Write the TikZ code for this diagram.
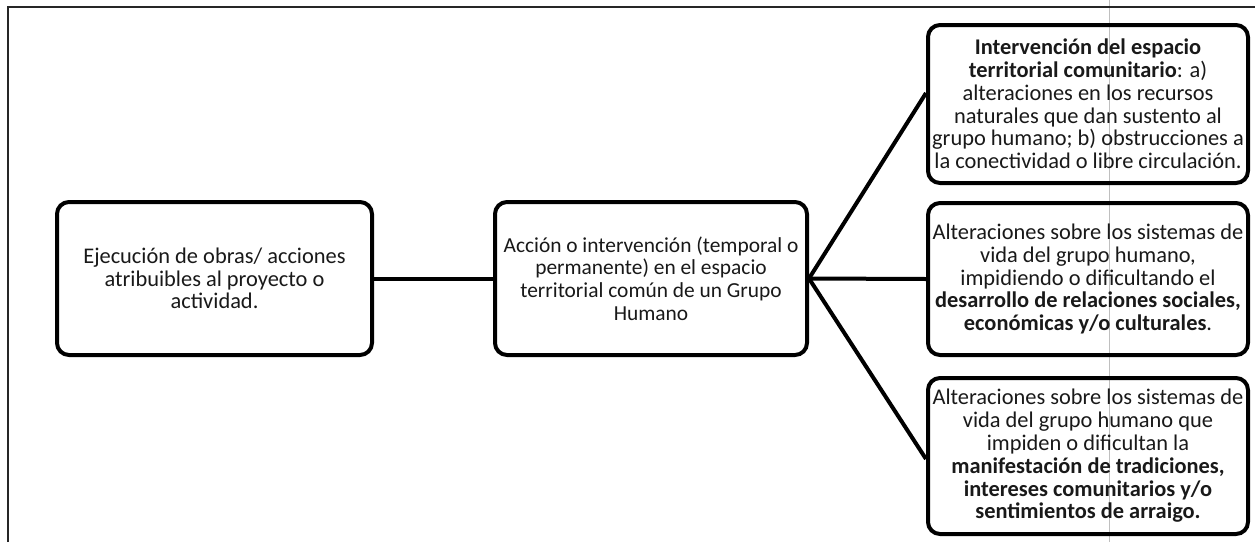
\documentclass[tikz,border=0pt]{standalone}
\usepackage{fontspec}
\setmainfont{Carlito}
\begin{document}
\begin{tikzpicture}[x=0.5pt,y=-0.5pt,
  box/.style={draw=black, line width=2pt, rounded corners=6pt, align=center,
    font=\fontsize{11.2}{11.4}\selectfont, text=black!90, inner sep=0pt},
  link/.style={line width=2pt, draw=black}]
\useasboundingbox (0,0) rectangle (1255,542);
\fill[white] (0,0) rectangle (1255,542);
% scan fold line
\draw[black!25, line width=0.4pt] (1109,0) -- (1109,542);
% outer frame
\draw[black!85, line width=1.1pt] (8,542) -- (8,7) -- (1255,7);
% nodes
\node[box, minimum width=157.5pt, minimum height=76.5pt] (b1) at (214.5,278.5)
  {Ejecución de obras/ acciones\\ atribuibles al proyecto o\\ actividad.};
\node[box, minimum width=156pt, minimum height=76.5pt, font=\fontsize{10.7}{11.4}\selectfont] (b2) at (651,278.5)
  {Acción o intervención (temporal o\\ permanente) en el espacio\\ territorial común de un Grupo\\ Humano};
\node[box, minimum width=160pt, minimum height=79pt] (r1) at (1088,104)
  {\textbf{Intervención del espacio}\\ \textbf{territorial comunitario}: a)\\ alteraciones en los recursos\\ naturales que dan sustento al\\ grupo humano; b) obstrucciones a\\ la conectividad o libre circulación.};
\node[box, minimum width=160pt, minimum height=76pt] (r2) at (1088,279)
  {Alteraciones sobre los sistemas de\\ vida del grupo humano,\\ impidiendo o dificultando el\\ \textbf{desarrollo de relaciones sociales,}\\ \textbf{económicas y/o culturales}.};
\node[box, minimum width=160pt, minimum height=78pt] (r3) at (1088,456)
  {Alteraciones sobre los sistemas de\\ vida del grupo humano que\\ impiden o dificultan la\\ \textbf{manifestación de tradiciones,}\\ \textbf{intereses comunitarios y/o}\\ \textbf{sentimientos de arraigo.}};
% connectors
\draw[link] (b1.east) -- (b2.west);
\draw[link] (b2.east) -- ([yshift=5.5pt]r1.west);
\draw[link] (b2.east) -- (r2.west);
\draw[link] (b2.east) -- ([yshift=-1.5pt]r3.west);
\end{tikzpicture}
\end{document}
